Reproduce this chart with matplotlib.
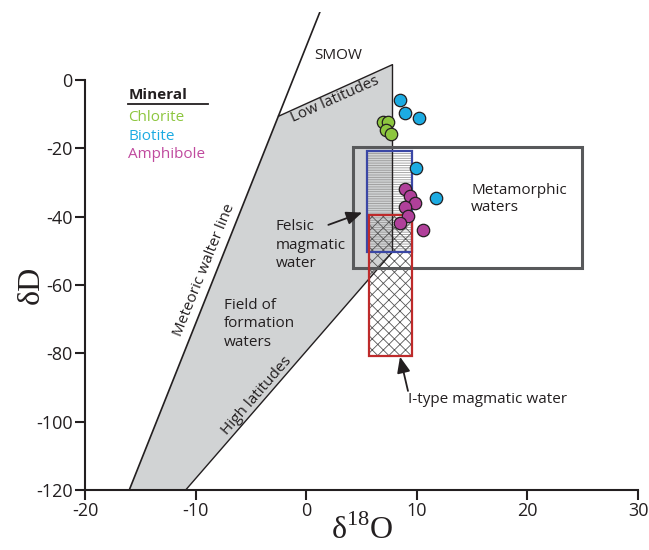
import matplotlib
matplotlib.use("Agg")
import matplotlib.pyplot as plt
from matplotlib.patches import Polygon, Rectangle

plt.rcParams["font.family"] = ["Open Sans", "DejaVu Sans"]
plt.rcParams["hatch.linewidth"] = 0.6
plt.rcParams["axes.unicode_minus"] = False

# Mineral data (d18O, dD)
chlorite_d18o = [6.97, 7.36, 7.2, 7.67]
chlorite_dd = [-12.2, -12.2, -14.6, -15.8]
biotite_d18o = [8.5, 8.9, 10.2, 9.9, 11.7]
biotite_dd = [-5.9, -9.6, -11.0, -25.8, -34.6]
amphibole_d18o = [8.9, 9.4, 9.8, 8.9, 9.2, 8.5, 10.6]
amphibole_dd = [-32.0, -34.0, -36.1, -37.3, -39.7, -41.9, -43.9]

# Reference fields
mwl_x = [-16.0, 1.25]
mwl_y = [-120, 20]
field_x = [-16.0, -2.5, 7.8, 7.8, -10.9]
field_y = [-120, -10.6, 4.5, -50.3, -120]
metamorphic = (4.2, 24.9, -55.0, -19.5)   # x0, x1, y0, y1
felsic = (5.5, 9.6, -50.3, -20.7)
itype = (5.7, 9.6, -80.8, -39.5)

GREEN = "#8dc63f"
BLUE = "#1cabe2"
MAGENTA = "#b0409a"

fig = plt.figure(figsize=(6.49, 5.5), dpi=100)
ax = fig.add_axes([0.131, 0.1091, 0.8521, 0.8697])
ax.set_xlim(-20, 30)
ax.set_ylim(-120, 20)

# formation waters field
ax.add_patch(Polygon(list(zip(field_x, field_y)), closed=True,
                     facecolor="#d1d3d4", edgecolor="none", zorder=1))


def box(rect, edge, hatch=None, hatch_color=None, lw=1.8, z=4):
    x0, x1, y0, y1 = rect
    if hatch:
        ax.add_patch(Rectangle((x0, y0), x1 - x0, y1 - y0, fill=False,
                               hatch=hatch, edgecolor=hatch_color,
                               linewidth=0, zorder=2))
    ax.add_patch(Rectangle((x0, y0), x1 - x0, y1 - y0, fill=False,
                           edgecolor=edge, linewidth=lw, zorder=z))


box(felsic, "#3a47a5", hatch="-------", hatch_color="#999999", lw=1.6)
box(itype, "#be2a2a", hatch="xxx", hatch_color="#555555", lw=1.6)

# field boundary lines
ax.plot(mwl_x, mwl_y, color="#231f20", lw=1.2, zorder=3)
ax.plot(field_x[1:5], field_y[1:5], color="#231f20", lw=1.0, zorder=3)
box(metamorphic, "#58595b", lw=2.2, z=3)

# minerals
kw = dict(s=80, edgecolors="#231f20", linewidths=0.9, zorder=5, clip_on=False)
ax.scatter(chlorite_d18o, chlorite_dd, c=GREEN, **kw)
ax.scatter(biotite_d18o, biotite_dd, c=BLUE, **kw)
ax.scatter(amphibole_d18o, amphibole_dd, c=MAGENTA, **kw)

# labels
tc = "#231f20"
fs = 11
ax.text(2.9, 7.3, "SMOW", fontsize=fs, color=tc, ha="center", va="center")
ax.text(2.6, -5.6, "Low latitudes", fontsize=fs, color=tc, rotation=24,
        ha="center", va="center")
ax.text(-9.2, -55.6, "Meteoric walter line", fontsize=fs, color=tc,
        rotation=68, ha="center", va="center")
ax.text(-4.5, -92.4, "High latitudes", fontsize=fs, color=tc, rotation=49,
        ha="center", va="center")
ax.text(-7.45, -71.4, "Field of\nformation\nwaters", fontsize=fs, color=tc,
        ha="left", va="center", linespacing=1.3)
ax.text(-2.75, -48.3, "Felsic\nmagmatic\nwater", fontsize=fs, color=tc,
        ha="left", va="center", linespacing=1.3)
ax.text(14.9, -34.8, "Metamorphic\nwaters", fontsize=fs, color=tc,
        ha="left", va="center", linespacing=1.25)
ax.text(9.2, -93.4, "I-type magmatic water", fontsize=fs, color=tc,
        ha="left", va="center")

arrow = dict(arrowstyle="-|>,head_length=0.6,head_width=0.25",
             color="#231f20", lw=1.3, mutation_scale=16,
             shrinkA=0, shrinkB=0)
ax.annotate("", xy=(5.06, -38.8), xytext=(2.0, -42.4), arrowprops=arrow,
            zorder=6)
ax.annotate("", xy=(8.48, -81.0), xytext=(9.2, -91.0), arrowprops=arrow,
            zorder=6)

# legend
ax.text(-16.1, -4.4, "Mineral", fontsize=fs, fontweight="bold", color=tc,
        ha="left", va="center")
ax.plot([-16.1, -8.9], [-7.1, -7.1], color=tc, lw=1.3)
ax.text(-16.1, -11.1, "Chlorite", fontsize=fs, color=GREEN, ha="left", va="center")
ax.text(-16.1, -16.4, "Biotite", fontsize=fs, color=BLUE, ha="left", va="center")
ax.text(-16.1, -21.7, "Amphibole", fontsize=fs, color="#c04a9e", ha="left",
        va="center")

# axes styling
for side in ("top", "right"):
    ax.spines[side].set_visible(False)
ax.spines["left"].set_bounds(-120, 0)
for side in ("left", "bottom"):
    ax.spines[side].set_linewidth(1.5)
    ax.spines[side].set_color("#231f20")
ax.set_xticks(range(-20, 31, 10))
ax.set_yticks(range(-120, 1, 20))
ax.tick_params(length=7, width=1.5, color="#231f20", labelsize=13,
               labelcolor=tc, pad=2)

ax.text(-0.097, 0.4286, "δD", transform=ax.transAxes, rotation=90,
        family="Liberation Serif", fontsize=23, ha="center", va="center",
        color=tc)
fig.text(362 / 649, 1 - 530 / 550, r"δ$^{\mathregular{18}}$O",
         family="Liberation Serif", fontsize=23, ha="center", va="center",
         color=tc)

fig.savefig("out.png", dpi=100)
